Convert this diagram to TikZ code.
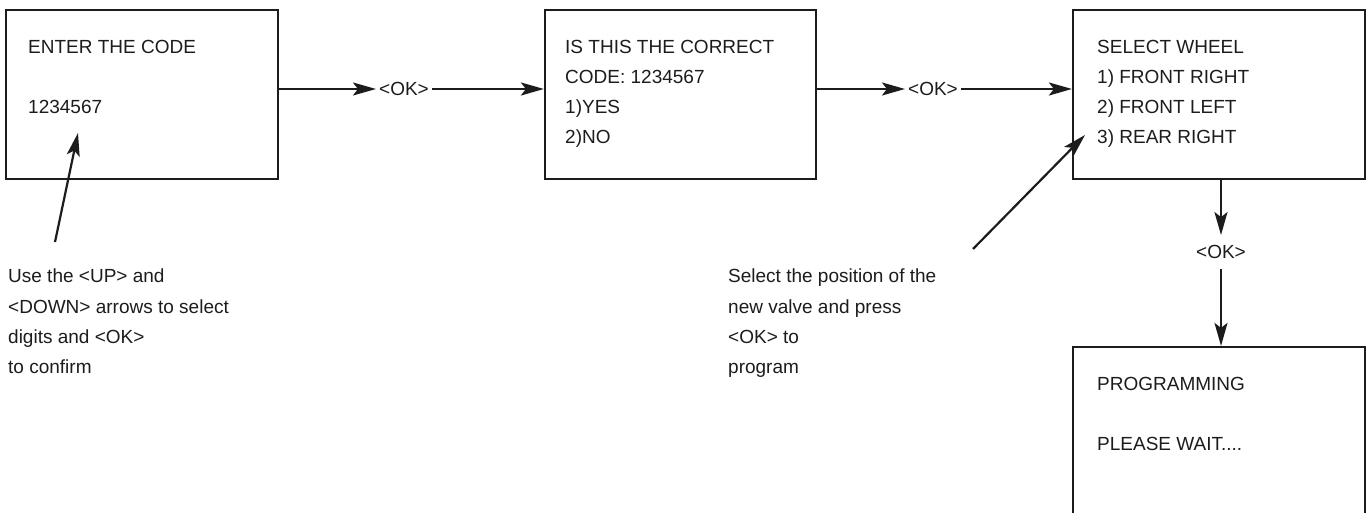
\documentclass[tikz,border=0pt]{standalone}
\usepackage{fontspec}
\setmainfont{Liberation Sans}
\usetikzlibrary{arrows.meta,positioning}
\definecolor{ink}{RGB}{30,27,28}

\tikzset{
  screen/.style={draw=ink, line width=2.2pt, minimum height=169pt, inner sep=0pt},
  flow/.style={draw=ink, line width=2.2pt, -{Stealth[length=23pt,width=13pt,inset=5pt]}},
  txt/.style={text=ink, font=\fontsize{19}{30}\selectfont, inner sep=0pt},
  oklabel/.style={txt, inner sep=3pt},
}

\begin{document}
\begin{tikzpicture}[x=1pt,y=-1pt]
\clip (0,0) rectangle (1371,513);

% screens
\node[screen, minimum width=272pt] (enter) at (142,94.5) {};
\node[screen, minimum width=271pt] (check) at (680.5,94.5) {};
\node[screen, minimum width=292pt] (wheel) at (1219,94.5) {};
\node[screen, minimum width=292pt, minimum height=200pt] (prog) at (1219,447) {};

% screen texts
\node[txt, anchor=base west] (enter1) at (28,54) {ENTER THE CODE};
\node[txt, anchor=base west] (enter2) at (28,114) {1234567};

\foreach \row [count=\i] in {IS THIS THE CORRECT, CODE: 1234567, 1)YES, 2)NO}
    \node[txt, anchor=base west] (check\i) at (565,24+30*\i) {\row};

\foreach \row [count=\i] in {SELECT WHEEL, 1) FRONT RIGHT, 2) FRONT LEFT, 3) REAR RIGHT}
    \node[txt, anchor=base west] (wheel\i) at (1097,24+30*\i) {\row};

\node[txt, anchor=base west] (prog1) at (1097,390) {PROGRAMMING};
\node[txt, anchor=base west] (prog2) at (1097,450) {PLEASE WAIT....};

% hints
\foreach \row [count=\i] in {Use the <UP> and, <DOWN> arrows to select, digits and <OK>, to confirm}
    \node[txt, anchor=base west] (hintA\i) at (8,253+30*\i) {\row};

\foreach \row [count=\i] in {Select the position of the, new valve and press, <OK> to, program}
    \node[txt, anchor=base west] (hintB\i) at (728,253+30*\i) {\row};

% ok labels
\node[oklabel] (ok1) at (404,89) {<OK>};
\node[oklabel] (ok2) at (933,89) {<OK>};
\node[oklabel, inner ysep=10pt] (ok3) at (1221,252) {<OK>};

% flow
\draw[flow] (enter.east |- ok1) -- (ok1.west);
\draw[flow] (ok1.east) -- (ok1 -| check.west);
\draw[flow] (check.east |- ok2) -- (ok2.west);
\draw[flow] (ok2.east) -- (ok2 -| wheel.west);
\draw[flow] (wheel.south -| ok3) -- (ok3.north);
\draw[flow] (ok3.south) -- (ok3 |- prog.north);

% pointers
\coordinate (tipA) at (78,133);
\coordinate (tailA) at (55,242);
\draw[flow] (tailA) -- (tipA);

\coordinate (tipB) at (1085,135);
\coordinate (tailB) at (973,249);
\draw[flow] (tailB) -- (tipB);

\end{tikzpicture}
\end{document}
